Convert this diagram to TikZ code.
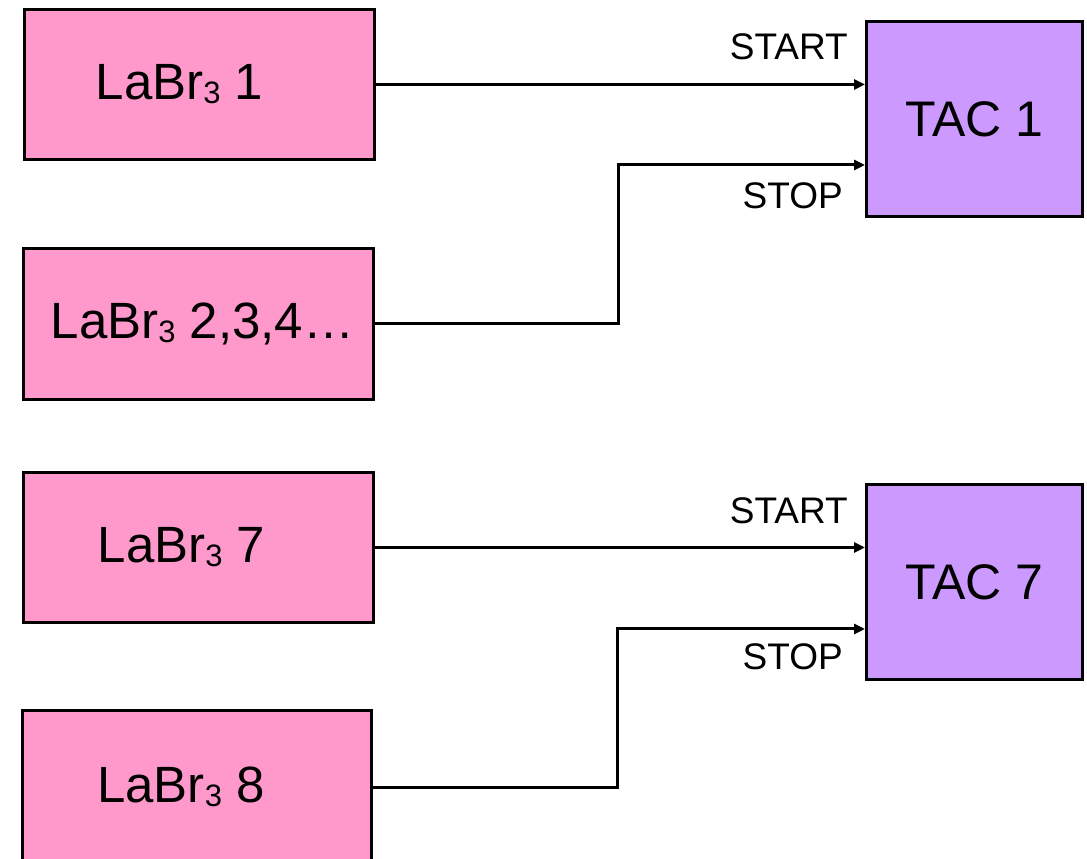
\documentclass[tikz,border=0pt]{standalone}
\usepackage{fontspec}
\setmainfont{Liberation Sans}
\usetikzlibrary{arrows.meta}
\definecolor{detpink}{HTML}{FF99CC}
\definecolor{tacviolet}{HTML}{CC99FF}
\newcommand{\labr}{LaBr\raisebox{-4pt}{\fontsize{31}{31}\selectfont 3}}

\begin{document}
\begin{tikzpicture}[x=1pt,y=1pt,
  det/.style={draw=black, line width=3pt, fill=detpink, inner sep=0pt,
    minimum width=350pt, minimum height=150pt, anchor=north west},
  tac/.style={draw=black, line width=3pt, fill=tacviolet, inner sep=0pt,
    minimum width=216pt, minimum height=195pt, anchor=north west,
    font=\fontsize{50}{60}\selectfont},
  dettext/.style={inner sep=0pt, font=\fontsize{51}{61}\selectfont},
  sig/.style={inner sep=0pt, anchor=east, font=\fontsize{37}{44}\selectfont},
  wire/.style={line width=3pt, -{Triangle[length=11pt,width=10pt]}}
]
\path[use as bounding box, clip] (0,0) rectangle (1087,859);

% detectors
\node[det] (d1) at (23,851) {};
\node[det, minimum height=151pt] (d2) at (22,612) {};
\node[det] (d7) at (22,388) {};
\node[det, minimum width=349pt, minimum height=154pt] (d8) at (21,150) {};

\node[dettext] (t1) at ([xshift=-20pt]d1.center) {\labr\ 1};
\node[dettext] (t2) at ([xshift=4pt]d2.center) {\labr\ 2,3,4…};
\node[dettext] (t7) at ([xshift=-17pt]d7.center) {\labr\ 7};
\node[dettext] (t8) at ([xshift=-16pt,yshift=1pt]d8.center) {\labr\ 8};

% time-to-amplitude converters
\node[tac] (tac1) at (865,839) {TAC 1};
\node[tac] (tac7) at (865,376) {TAC 7};

% bends of the stop lines
\coordinate (k1) at (618,694);
\coordinate (k7) at (617,230);

% start and stop signals
\draw[wire] (d1.east) -- (d1.east -| tac1.west);
\draw[wire] (d2.east) -| (k1) -- (k1 -| tac1.west);
\draw[wire] (d7.east) -- (d7.east -| tac7.west);
\draw[wire] (d8.east) -| (k7) -- (k7 -| tac7.west);

\node[sig] (s1) at (848,812) {START};
\node[sig] (p1) at (843,663) {STOP};
\node[sig] (s7) at (848,348) {START};
\node[sig] (p7) at (843,202) {STOP};
\end{tikzpicture}
\end{document}
